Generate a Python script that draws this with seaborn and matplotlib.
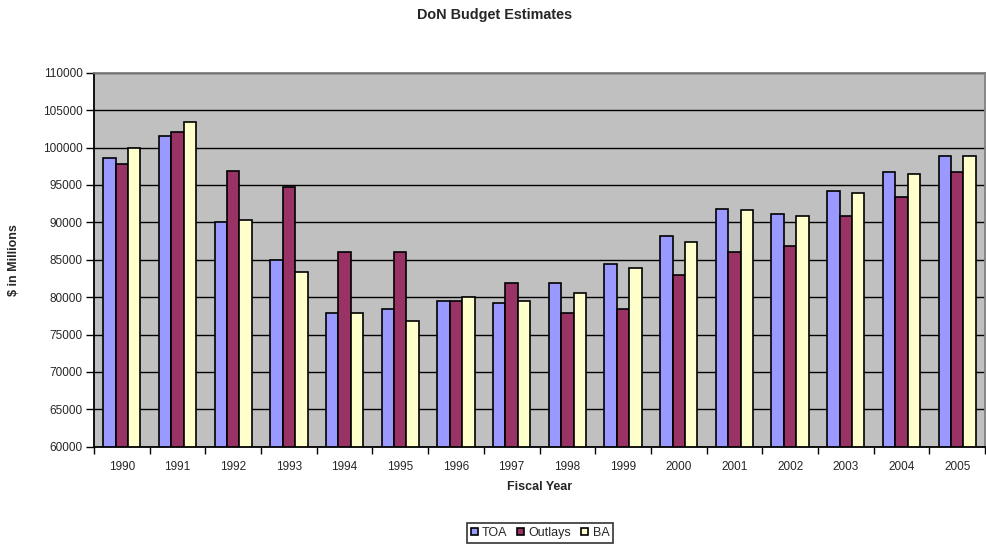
import matplotlib
matplotlib.use("Agg")
import matplotlib.pyplot as plt
import seaborn as sns
import pandas as pd
import numpy as np

years = ["1990", "1991", "1992", "1993", "1994", "1995", "1996", "1997",
         "1998", "1999", "2000", "2001", "2002", "2003", "2004", "2005"]
toa = [98600, 101600, 90000, 85000, 77900, 78400, 79500, 79200,
       81900, 84400, 88200, 91800, 91050, 94200, 96700, 98900]
outlays = [97800, 102100, 96900, 94700, 86000, 86000, 79500, 81900,
           77900, 78400, 83000, 86000, 86800, 90800, 93400, 96700]
ba = [100000, 103400, 90300, 83300, 77900, 76800, 80000, 79500,
      80550, 83900, 87400, 91600, 90800, 93950, 96400, 98900]
series = ["TOA", "Outlays", "BA"]
colors = ["#9999FF", "#993366", "#FFFFCC"]

df = pd.DataFrame({
    "Year": years * 3,
    "Value": toa + outlays + ba,
    "Series": [s for s in series for _ in years],
})

sns.set_theme(style="white")
plt.rcParams["font.family"] = ["Liberation Sans", "DejaVu Sans"]

fig = plt.figure(figsize=(9.86, 5.44), dpi=100)
ax = fig.add_axes([94 / 986, 1 - 446.7 / 544, (985 - 94) / 986, (446.7 - 72.7) / 544])

sns.barplot(data=df, x="Year", y="Value", hue="Series", hue_order=series,
            palette=colors, order=years, width=0.67, gap=0,
            edgecolor="black", linewidth=1.2, saturation=1, ax=ax, legend=True)

ax.set_facecolor("#C0C0C0")
ax.set_ylim(60000, 110000)
ax.set_xlim(-0.5, len(years) - 0.5)
ax.set_yticks(np.arange(60000, 110001, 5000))
ax.yaxis.grid(True, color="black", linewidth=1)
ax.xaxis.grid(False)
ax.set_axisbelow(True)

ax.tick_params(axis="y", which="major", direction="out", length=6, width=1,
               color="black", labelsize=8.5, left=True, pad=2)
ax.tick_params(axis="x", which="major", length=0, labelsize=8.5, pad=10)
ax.set_xticks(np.arange(-0.5, len(years), 1), minor=True)
ax.tick_params(axis="x", which="minor", direction="out", length=5, width=1,
               color="black", bottom=True)

for side in ["left", "bottom"]:
    ax.spines[side].set_color("black")
    ax.spines[side].set_linewidth(1.3)
for side in ["top", "right"]:
    ax.spines[side].set_visible(True)
    ax.spines[side].set_color("#808080")
    ax.spines[side].set_linewidth(1.3)

ax.set_xlabel("Fiscal Year", fontsize=9, fontweight="bold", labelpad=6)
ax.set_ylabel("$ in Millions", fontsize=9, fontweight="bold", labelpad=16.7)

fig.text(0.502, 1 - 15.5 / 544, "DoN Budget Estimates", ha="center", va="center",
         fontsize=10.4, fontweight="bold")

handles, labels = ax.get_legend_handles_labels()
ax.legend_.remove()
leg = fig.legend(handles, labels, loc="center", bbox_to_anchor=(540 / 986, 1 - 533 / 544),
                 ncol=3, fontsize=9, frameon=True, fancybox=False,
                 handlelength=0.55, handleheight=0.55, handletextpad=0.35,
                 columnspacing=0.8, borderpad=0.3, borderaxespad=0)
leg.get_frame().set_edgecolor("black")
leg.get_frame().set_linewidth(1.2)

fig.savefig("out.png", dpi=100)
